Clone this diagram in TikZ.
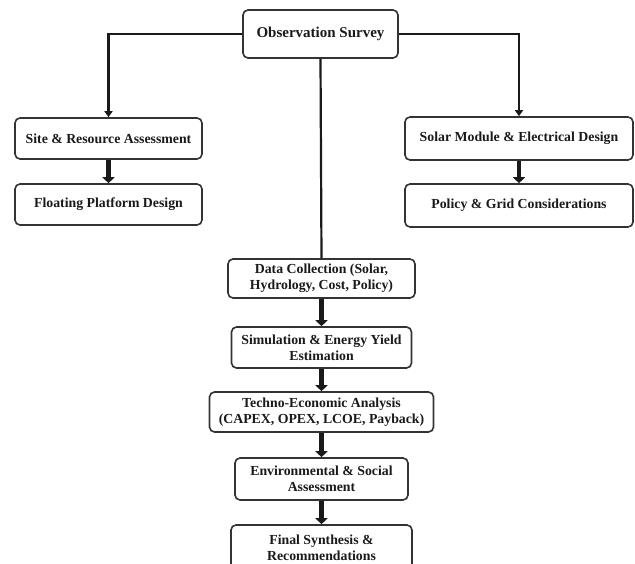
\documentclass[tikz,border=0pt]{standalone}
\usepackage{fontspec}
\setmainfont{Liberation Serif}
\usepackage{xcolor}
\usetikzlibrary{positioning,arrows.meta,calc}
\definecolor{frame}{HTML}{333333}
\definecolor{ink}  {HTML}{1A1A1A}

\begin{document}
\begin{tikzpicture}[x=1pt,y=-1pt,
  font=\fontsize{13.8}{16}\selectfont\bfseries,
  box/.style={draw=frame,line width=1.6pt,rounded corners=5pt,fill=white,
              text=ink,align=center,inner sep=2pt},
  link/.style={draw=ink,line width=2.2pt},
  flow/.style={draw=ink,line width=4.6pt,-{Triangle[length=6pt,width=12pt]}}]

\clip (0,0) rectangle (635,564);

\node[box,minimum width=155pt,minimum height=48pt,
      font=\fontsize{15}{18}\selectfont\bfseries] (obs) at (320.5,34)
  {Observation Survey};

\node[box,minimum width=187pt,minimum height=41pt] (site)  at (108.5,138.5)
  {Site \& Resource Assessment};
\node[box,minimum width=187pt,minimum height=41pt] (float) at (108.5,204.5)
  {Floating Platform Design};

\node[box,minimum width=228pt,minimum height=43pt] (solar)  at (519,138.5)
  {Solar Module \& Electrical Design};
\node[box,minimum width=228pt,minimum height=43pt] (policy) at (519,205.5)
  {Policy \& Grid Considerations};

\node[box,minimum width=187pt,minimum height=39pt] (data) at (321.5,278.5)
  {Data Collection (Solar,\\Hydrology, Cost, Policy)};
\node[box,minimum width=180pt,minimum height=41pt] (sim) at (321.5,347.5)
  {Simulation \& Energy Yield\\Estimation};
\node[box,minimum width=224pt,minimum height=40pt] (tea) at (321.5,412)
  {Techno-Economic Analysis\\(CAPEX, OPEX, LCOE, Payback)};
\node[box,minimum width=173pt,minimum height=42pt] (env) at (321.5,479)
  {Environmental \& Social\\Assessment};
\node[box,minimum width=181pt,minimum height=46pt] (final) at (321.5,548)
  {Final Synthesis \&\\Recommendations};

% branches out of the survey box
\draw[link,-{Triangle[length=6pt,width=8pt]}] (obs.west) -| (site.north);
\draw[link,-{Triangle[length=6pt,width=8pt]}] (obs.east) -| (solar.north);
\draw[link] (obs.south) -- (data.north);

% thick steps
\draw[flow] (site.south) -- (float.north);
\draw[flow] (solar.south) -- (policy.north);
\draw[flow] (data.south) -- (sim.north);
\draw[flow] (sim.south) -- (tea.north);
\draw[flow] (tea.south) -- (env.north);
\draw[flow] (env.south) -- (final.north);
\end{tikzpicture}
\end{document}
